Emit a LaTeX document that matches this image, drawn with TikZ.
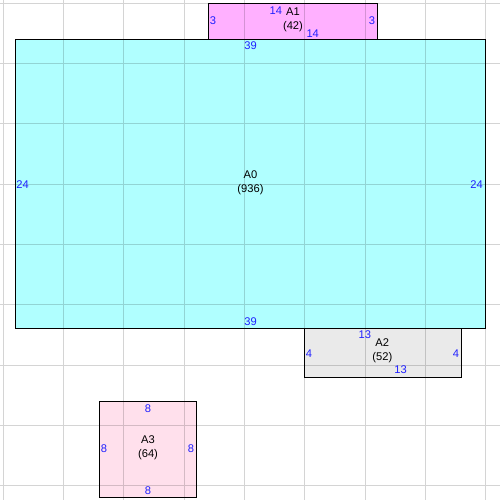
\documentclass[tikz,border=0pt]{standalone}
\usepackage{fontspec}
\setmainfont{Liberation Sans}
\usepackage{xcolor}
\usepackage{tikz}
\definecolor{roomcyan}{HTML}{B0FFFF}
\definecolor{roompink}{HTML}{FFB0FF}
\definecolor{roomgrey}{HTML}{EAEAEA}
\definecolor{roomrose}{HTML}{FFE0EC}
\definecolor{dimblue}{HTML}{2020FF}
\definecolor{gridgrey}{HTML}{D4D4D4}
\tikzset{
  gridline/.style={draw=gridgrey, line width=0.7pt},
  room/.style={draw=black, line width=0.75pt},
  roomlab/.style={align=center, inner sep=0pt, text=black, font=\fontsize{7.9}{9.9}\selectfont},
  dimlab/.style={inner sep=0pt, text=dimblue, font=\fontsize{7.9}{9.9}\selectfont}
}

\begin{document}
\begin{tikzpicture}[x=0.3cm, y=-0.3cm]
  \useasboundingbox (-0.274,-0.274) rectangle (41.19,41.19);

  % room fills
  \fill[roomcyan] (1,3) rectangle (40,27);
  \fill[roompink] (17,0) rectangle (31,3);
  \fill[roomgrey] (25,27) rectangle (38,31);
  \fill[roomrose] (8,33) rectangle (16,41);

  % grid, every 5 units, darkening what lies below
  \begin{scope}[blend mode=multiply]
    \draw[gridline] \foreach \g in {0,5,...,40} {
      (\g,-0.274) -- (\g,41.19) (-0.274,\g) -- (41.19,\g)};
  \end{scope}

  % room outlines
  \draw[room] (1,3) rectangle (40,27);
  \draw[room] (17,0) rectangle (31,3);
  \draw[room] (25,27) rectangle (38,31);
  \draw[room] (8,33) rectangle (16,41);

  % A0
  \node[roomlab] (A0) at (20.5,14.9) {A0\\(936)};
  \node[dimlab] (A0t) at (20.5,3.55) {39};
  \node[dimlab] (A0b) at (20.5,26.4) {39};
  \node[dimlab] (A0l) at (1.6,15) {24};
  \node[dimlab] (A0r) at (39.25,15) {24};

  % A1
  \node[roomlab] (A1) at (24.02,1.4) {A1\\(42)};
  \node[dimlab] (A1t) at (22.61,0.61) {14};
  \node[dimlab] (A1b) at (25.66,2.49) {14};
  \node[dimlab] (A1l) at (17.39,1.47) {3};
  \node[dimlab] (A1r) at (30.57,1.47) {3};

  % A2
  \node[roomlab] (A2) at (31.43,28.85) {A2\\(52)};
  \node[dimlab] (A2t) at (29.99,27.5) {13};
  \node[dimlab] (A2b) at (32.95,30.4) {13};
  \node[dimlab] (A2l) at (25.35,29.02) {4};
  \node[dimlab] (A2r) at (37.54,29.02) {4};

  % A3
  \node[roomlab] (A3) at (12,36.85) {A3\\(64)};
  \node[dimlab] (A3t) at (12,33.58) {8};
  \node[dimlab] (A3b) at (12,40.41) {8};
  \node[dimlab] (A3l) at (8.35,36.96) {8};
  \node[dimlab] (A3r) at (15.56,36.96) {8};
\end{tikzpicture}
\end{document}
